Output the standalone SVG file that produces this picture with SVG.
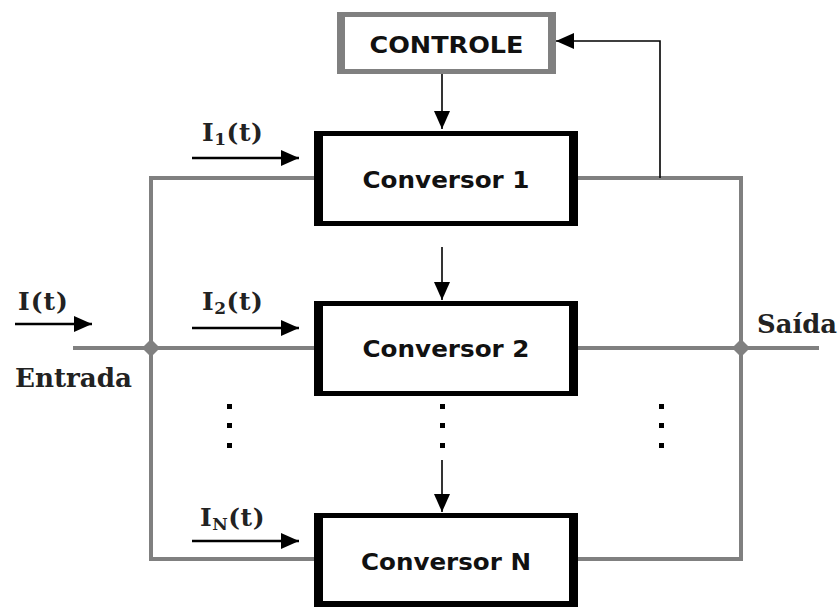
<svg xmlns="http://www.w3.org/2000/svg" width="838" height="607" viewBox="0 0 838 607">
<style>
.bus{fill:none;stroke:#808080;stroke-width:4}
.ctl{fill:none;stroke:#000;stroke-width:1.6}
.cur{fill:none;stroke:#000;stroke-width:2.6}
.lbl{font-family:"DejaVu Sans",sans-serif;font-weight:bold;font-size:23px;fill:#111;text-anchor:middle}
.ser{font-family:"DejaVu Serif",serif;font-weight:bold;fill:#222}
.dot{fill:#000}
</style>
<defs>
<marker id="ah" markerUnits="userSpaceOnUse" markerWidth="20" markerHeight="20" refX="18" refY="8" orient="auto">
<path d="M0,0 L18,8 L0,16 Z" fill="#000"/>
</marker>
<marker id="ahc" markerUnits="userSpaceOnUse" markerWidth="20" markerHeight="18" refX="18" refY="8" orient="auto">
<path d="M0,0 L18,8 L0,16 Z" fill="#000"/>
</marker>
</defs>
<g id="connectors">
<path class="bus" d="M318,178 H151 V559 H318"/>
<path class="bus" d="M73,348 H318"/>
<path class="bus" d="M578,178 H741 V559 H578"/>
<path class="bus" d="M578,348 H819"/>
<polygon points="151,339 160,348 151,357 142,348" fill="#808080"/>
<polygon points="741,339 750,348 741,357 732,348" fill="#808080"/>
<path class="ctl" d="M660,178 V41 H556" marker-end="url(#ah)"/>
<path class="ctl" d="M442,74 V129" marker-end="url(#ah)"/>
<path class="ctl" d="M442,247 V300" marker-end="url(#ah)"/>
<path class="ctl" d="M442,460 V512" marker-end="url(#ah)"/>
<path class="cur" d="M15,324 H92" marker-end="url(#ahc)"/>
<path class="cur" d="M192,158 H299" marker-end="url(#ahc)"/>
<path class="cur" d="M192,328 H299" marker-end="url(#ahc)"/>
<path class="cur" d="M192,541 H299" marker-end="url(#ahc)"/>
</g>
<g id="controle">
<rect x="337" y="12" width="219" height="62" fill="#808080"/>
<rect x="345" y="17" width="203" height="52" fill="#fff"/>
<text class="lbl" x="446.5" y="53" textLength="154" lengthAdjust="spacingAndGlyphs">CONTROLE</text>
</g>
<g id="conversor1">
<rect x="314" y="131" width="264" height="95" fill="#000"/>
<rect x="323" y="136" width="246" height="85" fill="#fff"/>
<text class="lbl" x="446" y="188" textLength="167" lengthAdjust="spacingAndGlyphs">Conversor 1</text>
</g>
<g id="conversor2">
<rect x="314" y="301" width="264" height="95" fill="#000"/>
<rect x="323" y="306" width="246" height="85" fill="#fff"/>
<text class="lbl" x="446" y="357" textLength="167" lengthAdjust="spacingAndGlyphs">Conversor 2</text>
</g>
<g id="conversorN">
<rect x="314" y="513" width="264" height="94" fill="#000"/>
<rect x="323" y="518" width="246" height="83" fill="#fff"/>
<text class="lbl" x="446" y="570" textLength="170" lengthAdjust="spacingAndGlyphs">Conversor N</text>
</g>
<g id="dots">
<rect class="dot" x="227" y="404" width="5" height="5"/>
<rect class="dot" x="227" y="423" width="5" height="5"/>
<rect class="dot" x="227" y="443" width="5" height="5"/>
<rect class="dot" x="440" y="404" width="5" height="5"/>
<rect class="dot" x="440" y="423" width="5" height="5"/>
<rect class="dot" x="440" y="443" width="5" height="5"/>
<rect class="dot" x="659" y="404" width="5" height="5"/>
<rect class="dot" x="659" y="423" width="5" height="5"/>
<rect class="dot" x="659" y="443" width="5" height="5"/>
</g>
<g id="labels">
<text class="ser" x="18" y="310" font-size="25" letter-spacing="1">I(t)</text>
<text class="ser" x="202" y="141" font-size="25" letter-spacing="0.5">I<tspan font-size="17" dy="4">1</tspan><tspan dy="-4">(t)</tspan></text>
<text class="ser" x="202" y="310" font-size="25" letter-spacing="0.5">I<tspan font-size="17" dy="4">2</tspan><tspan dy="-4">(t)</tspan></text>
<text class="ser" x="200" y="526" font-size="25" letter-spacing="0.5">I<tspan font-size="17" dy="4">N</tspan><tspan dy="-4">(t)</tspan></text>
<text class="ser" x="15" y="387" font-size="26" fill="#111" textLength="117" lengthAdjust="spacingAndGlyphs">Entrada</text>
<text class="ser" x="757" y="333" font-size="26" fill="#111" textLength="80" lengthAdjust="spacingAndGlyphs">Saída</text>
</g>
</svg>
